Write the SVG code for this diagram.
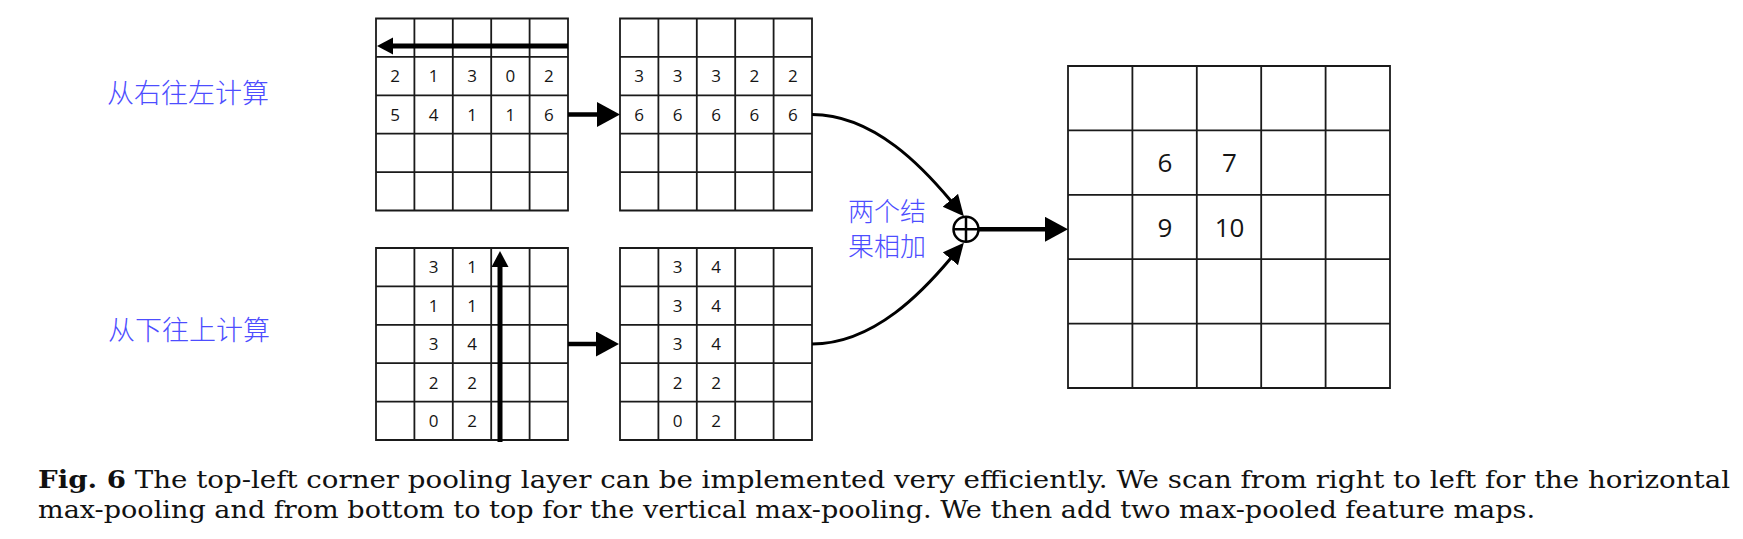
<svg xmlns="http://www.w3.org/2000/svg" width="1743" height="539" viewBox="0 0 1743 539">
<style>
.grid{fill:none;stroke:#1a1a1a;stroke-width:1.8}
.num{font-family:"Open Sans","Noto Sans",sans-serif;font-size:17px;fill:#151515;text-anchor:middle}
.big{font-family:"Open Sans","Noto Sans",sans-serif;font-size:26px;fill:#151515;text-anchor:middle}
.cn{font-family:"Noto Sans CJK SC",sans-serif;font-size:27px;fill:#4d4dff;font-weight:300}
.cap{font-family:"DejaVu Serif","Liberation Serif",serif;font-size:25px;fill:#111}
.thick{stroke:#000;stroke-width:4.5;fill:none}
.scan{stroke:#000;stroke-width:5;fill:none}
.curve{stroke:#000;stroke-width:3;fill:none}
</style>
<defs>
<marker id="bigHead" markerUnits="userSpaceOnUse" markerWidth="24" markerHeight="26" refX="1" refY="12.5" orient="auto"><path d="M0,0 L23,12.5 L0,25 z" fill="#000"/></marker>
<marker id="scanHead" markerUnits="userSpaceOnUse" markerWidth="18" markerHeight="18" refX="1" refY="8.5" orient="auto"><path d="M0,0 L16,8.5 L0,17 z" fill="#000"/></marker>
<marker id="curveHead" markerUnits="userSpaceOnUse" markerWidth="22" markerHeight="22" refX="1" refY="10" orient="auto"><path d="M0,0 L21,10 L0,20 z" fill="#000"/></marker>
</defs>
<rect width="1743" height="539" fill="#fff"/>

<g id="label-horizontal"><text class="cn" x="107" y="103">从右往左计算</text></g>
<g id="label-vertical"><text class="cn" x="108" y="340">从下往上计算</text></g>
<g id="label-add"><text class="cn" x="887" y="221" text-anchor="middle" style="font-size:26px">两个结</text><text class="cn" x="887" y="256" text-anchor="middle" style="font-size:26px">果相加</text></g>

<g id="grid-top-left">
<path class="grid" d="M376,18.5H568V210.5H376Z M414.4,18.5V210.5 M452.8,18.5V210.5 M491.2,18.5V210.5 M529.6,18.5V210.5 M376,56.9H568 M376,95.3H568 M376,133.7H568 M376,172.1H568"/>
<text class="num" x="395.2" y="82.3">2</text><text class="num" x="433.6" y="82.3">1</text><text class="num" x="472" y="82.3">3</text><text class="num" x="510.4" y="82.3">0</text><text class="num" x="548.8" y="82.3">2</text>
<text class="num" x="395.2" y="120.7">5</text><text class="num" x="433.6" y="120.7">4</text><text class="num" x="472" y="120.7">1</text><text class="num" x="510.4" y="120.7">1</text><text class="num" x="548.8" y="120.7">6</text>
</g>

<g id="grid-top-middle">
<path class="grid" d="M620,18.5H812V210.5H620Z M658.4,18.5V210.5 M696.8,18.5V210.5 M735.2,18.5V210.5 M773.6,18.5V210.5 M620,56.9H812 M620,95.3H812 M620,133.7H812 M620,172.1H812"/>
<text class="num" x="639.2" y="82.3">3</text><text class="num" x="677.6" y="82.3">3</text><text class="num" x="716" y="82.3">3</text><text class="num" x="754.4" y="82.3">2</text><text class="num" x="792.8" y="82.3">2</text>
<text class="num" x="639.2" y="120.7">6</text><text class="num" x="677.6" y="120.7">6</text><text class="num" x="716" y="120.7">6</text><text class="num" x="754.4" y="120.7">6</text><text class="num" x="792.8" y="120.7">6</text>
</g>

<g id="grid-bottom-left">
<path class="grid" d="M376,248H568V440H376Z M414.4,248V440 M452.8,248V440 M491.2,248V440 M529.6,248V440 M376,286.4H568 M376,324.8H568 M376,363.2H568 M376,401.6H568"/>
<text class="num" x="433.6" y="273.4">3</text><text class="num" x="472" y="273.4">1</text>
<text class="num" x="433.6" y="311.8">1</text><text class="num" x="472" y="311.8">1</text>
<text class="num" x="433.6" y="350.2">3</text><text class="num" x="472" y="350.2">4</text>
<text class="num" x="433.6" y="388.6">2</text><text class="num" x="472" y="388.6">2</text>
<text class="num" x="433.6" y="427">0</text><text class="num" x="472" y="427">2</text>
</g>

<g id="grid-bottom-middle">
<path class="grid" d="M620,248H812V440H620Z M658.4,248V440 M696.8,248V440 M735.2,248V440 M773.6,248V440 M620,286.4H812 M620,324.8H812 M620,363.2H812 M620,401.6H812"/>
<text class="num" x="677.6" y="273.4">3</text><text class="num" x="716" y="273.4">4</text>
<text class="num" x="677.6" y="311.8">3</text><text class="num" x="716" y="311.8">4</text>
<text class="num" x="677.6" y="350.2">3</text><text class="num" x="716" y="350.2">4</text>
<text class="num" x="677.6" y="388.6">2</text><text class="num" x="716" y="388.6">2</text>
<text class="num" x="677.6" y="427">0</text><text class="num" x="716" y="427">2</text>
</g>

<g id="grid-output">
<path class="grid" d="M1068,66H1390V388H1068Z M1132.4,66V388 M1196.8,66V388 M1261.2,66V388 M1325.6,66V388 M1068,130.4H1390 M1068,194.8H1390 M1068,259.2H1390 M1068,323.6H1390"/>
<text class="big" x="1165" y="172">6</text><text class="big" x="1229.5" y="172">7</text>
<text class="big" x="1165" y="236.5">9</text><text class="big" x="1229.5" y="236.5">10</text>
</g>

<g id="plus-node">
<circle cx="966" cy="229.3" r="12.5" fill="#fff" stroke="#000" stroke-width="2.5"/>
<path d="M953.5,229.3H978.5 M966,216.8V241.8" stroke="#000" stroke-width="2.5"/>
</g>

<g id="connectors">
<path class="scan" d="M568,46H392" marker-end="url(#scanHead)"/>
<path class="scan" d="M500,442V266" marker-end="url(#scanHead)"/>
<path class="thick" d="M568,114.5H598" marker-end="url(#bigHead)"/>
<path class="thick" d="M568,344H597" marker-end="url(#bigHead)"/>
<path class="curve" d="M812,114.5 C875,114.5 925,170 951,201" marker-end="url(#curveHead)"/>
<path class="curve" d="M812,344 C875,344 925,289 951,258" marker-end="url(#curveHead)"/>
<path class="thick" d="M978.5,229.3H1046" marker-end="url(#bigHead)"/>
</g>

<g id="caption">
<text class="cap" x="38" y="488" textLength="1692" lengthAdjust="spacingAndGlyphs"><tspan font-weight="bold">Fig. 6</tspan> The top-left corner pooling layer can be implemented very efficiently. We scan from right to left for the horizontal</text>
<text class="cap" x="38" y="518" textLength="1497" lengthAdjust="spacingAndGlyphs">max-pooling and from bottom to top for the vertical max-pooling. We then add two max-pooled feature maps.</text>
</g>
</svg>
